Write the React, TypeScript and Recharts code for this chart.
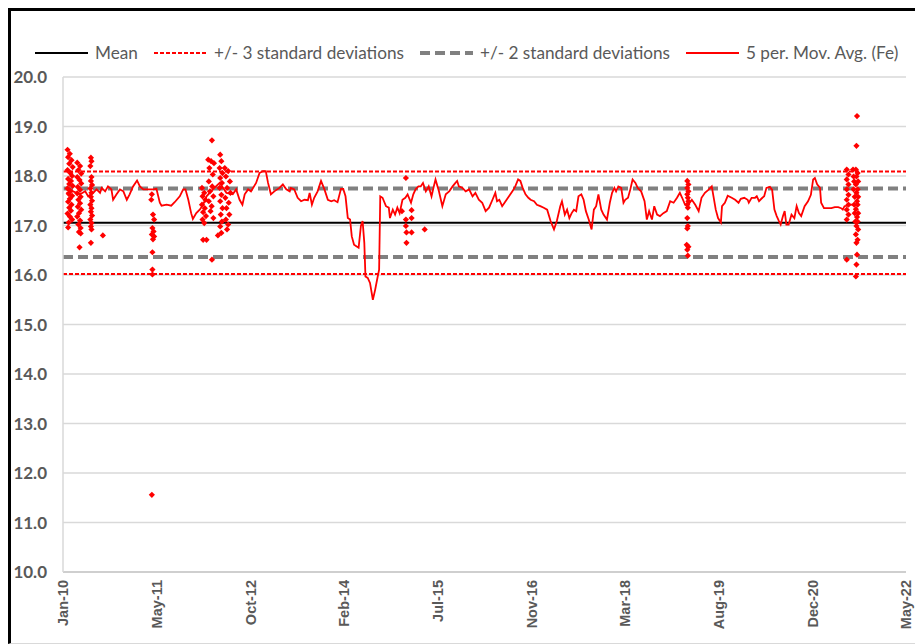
import React from 'react';
import { ComposedChart, Line, Scatter, XAxis, YAxis, CartesianGrid, ReferenceLine } from 'recharts';

// x values are months since Jan-2010
const monthLabels = ['Jan-10', 'May-11', 'Oct-12', 'Feb-14', 'Jul-15', 'Nov-16', 'Mar-18', 'Aug-19', 'Dec-20', 'May-22'];
const SPAN_MONTHS = 148;
const yTicks = [10, 11, 12, 13, 14, 15, 16, 17, 18, 19, 20];

const MEAN = 17.055;
const SD = 0.345;

const legendNames = ['Mean', '+/- 3 standard deviations', '+/- 2 standard deviations', '5 per. Mov. Avg. (Fe)'];

// 5 period moving average of Fe
const movAvg: [number, number][] = [
  [0.6, 17.66], [1.8, 17.69], [3.0, 17.63], [3.9, 17.69], [4.4, 17.59], [5.3, 17.66], [5.9, 17.73], [6.5, 17.66],
  [6.8, 17.76], [7.4, 17.69], [7.9, 17.79], [8.5, 17.73], [8.8, 17.52], [9.4, 17.63], [10.0, 17.73], [10.6, 17.69],
  [11.2, 17.52], [11.7, 17.63], [12.3, 17.79], [13.0, 17.91], [13.5, 17.79], [14.1, 17.73], [14.7, 17.73], [15.2, 17.73],
  [15.8, 17.73], [16.4, 17.74], [17.0, 17.46], [17.3, 17.4], [18.2, 17.42], [19.0, 17.4], [19.6, 17.47], [20.5, 17.59],
  [21.1, 17.73], [21.5, 17.73], [22.0, 17.52], [22.5, 17.25], [22.8, 17.13], [23.4, 17.25], [24.0, 17.32], [24.6, 17.42],
  [25.2, 17.59], [26.3, 17.73], [27.5, 17.86], [28.7, 17.66], [29.8, 17.63], [30.4, 17.73], [31.0, 17.52], [31.5, 17.42],
  [31.9, 17.63], [32.5, 17.73], [33.0, 17.69], [33.9, 17.86], [34.5, 18.06], [35.1, 18.1], [35.6, 18.1], [36.0, 17.86],
  [36.5, 17.63], [37.1, 17.69], [38.0, 17.76], [38.6, 17.83], [39.2, 17.73], [39.8, 17.69], [40.0, 17.76], [40.6, 17.73],
  [41.2, 17.56], [41.8, 17.49], [42.4, 17.52], [43.0, 17.51], [43.3, 17.66], [43.7, 17.42], [44.1, 17.56], [44.7, 17.69],
  [45.3, 17.9], [45.9, 17.73], [46.5, 17.52], [47.1, 17.49], [47.6, 17.51], [48.2, 17.47], [48.8, 17.74], [49.2, 17.74],
  [49.6, 17.59], [50.0, 17.15], [50.4, 17.12], [50.7, 16.78], [51.1, 16.61], [51.5, 16.58], [51.9, 16.55], [52.3, 16.99],
  [52.6, 17.09], [52.9, 16.65], [53.1, 15.97], [53.5, 15.94], [53.9, 15.84], [54.4, 15.5], [54.8, 15.7], [55.2, 15.94],
  [55.5, 16.11], [55.7, 17.59], [56.1, 17.56], [56.7, 17.39], [57.2, 17.36], [57.4, 17.15], [57.9, 17.32], [58.3, 17.22],
  [58.7, 17.36], [59.1, 17.25], [59.6, 17.52], [60.1, 17.56], [60.5, 17.63], [61.1, 17.46], [61.5, 17.63], [61.9, 17.73],
  [62.4, 17.79], [62.8, 17.79], [63.2, 17.86], [63.7, 17.69], [64.2, 17.79], [64.7, 17.59], [65.1, 17.79], [65.4, 17.93],
  [66.0, 17.69], [66.6, 17.39], [67.2, 17.63], [67.8, 17.69], [68.4, 17.79], [68.9, 17.86], [69.2, 17.9], [69.5, 17.79],
  [70.1, 17.76], [70.7, 17.69], [71.3, 17.73], [71.9, 17.59], [72.4, 17.66], [73.0, 17.52], [73.6, 17.46], [74.2, 17.29],
  [74.8, 17.36], [75.4, 17.52], [75.9, 17.66], [76.2, 17.49], [76.6, 17.52], [77.1, 17.39], [77.7, 17.49], [78.3, 17.59],
  [78.9, 17.69], [79.4, 17.79], [79.9, 17.93], [80.3, 17.9], [80.7, 17.76], [81.2, 17.63], [81.7, 17.56], [82.1, 17.52],
  [82.7, 17.49], [83.2, 17.42], [83.8, 17.39], [84.4, 17.36], [85.0, 17.32], [85.6, 17.09], [86.2, 16.92], [86.7, 17.09],
  [87.3, 17.39], [87.6, 17.49], [88.1, 17.22], [88.5, 17.32], [88.9, 17.15], [89.3, 17.25], [89.7, 17.32], [90.1, 17.29],
  [90.5, 17.59], [91.0, 17.63], [91.4, 17.52], [91.8, 17.29], [92.3, 17.12], [92.8, 16.92], [93.2, 17.32], [93.6, 17.39],
  [94.0, 17.63], [94.5, 17.32], [94.9, 17.22], [95.5, 17.12], [96.0, 17.46], [96.4, 17.66], [96.8, 17.76], [97.1, 17.69],
  [97.5, 17.79], [98.0, 17.76], [98.4, 17.46], [98.7, 17.52], [99.2, 17.56], [99.6, 17.73], [100.0, 17.93], [100.5, 17.86],
  [100.9, 17.76], [101.5, 17.69], [102.1, 17.49], [102.5, 17.12], [102.9, 17.29], [103.4, 17.12], [103.8, 17.39], [104.3, 17.22],
  [104.8, 17.19], [105.4, 17.25], [106.0, 17.29], [106.6, 17.49], [107.2, 17.46], [107.8, 17.56], [108.3, 17.66], [108.7, 17.56],
  [109.2, 17.42], [109.8, 17.42], [110.4, 17.52], [111.0, 17.42], [111.6, 17.29], [112.1, 17.56], [112.7, 17.66], [113.3, 17.72],
  [113.9, 17.79], [114.2, 17.59], [114.6, 17.32], [115.0, 17.15], [115.5, 17.06], [115.7, 17.39], [116.2, 17.46], [116.7, 17.6],
  [117.4, 17.56], [118.0, 17.52], [118.6, 17.46], [119.0, 17.54], [119.6, 17.56], [120.2, 17.52], [120.4, 17.46], [120.9, 17.56],
  [121.5, 17.56], [121.8, 17.59], [122.2, 17.49], [122.6, 17.54], [123.1, 17.59], [123.5, 17.76], [124.1, 17.78], [124.5, 17.72],
  [124.9, 17.32], [125.3, 17.19], [125.7, 17.09], [126.0, 17.02], [126.4, 17.19], [126.7, 17.29], [127.0, 17.02], [127.4, 17.02],
  [127.9, 17.22], [128.4, 17.15], [128.8, 17.39], [129.2, 17.25], [129.6, 17.19], [130.2, 17.39], [130.8, 17.49], [131.3, 17.62],
  [131.7, 17.93], [132.0, 17.96], [132.4, 17.83], [132.9, 17.76], [133.1, 17.46], [133.6, 17.35], [134.3, 17.35], [134.9, 17.35],
  [135.5, 17.37], [136.1, 17.37], [136.6, 17.35], [136.9, 17.32], [137.2, 17.39], [137.7, 17.4], [138.1, 17.42], [138.7, 17.42],
];

// individual Fe results outside the moving average
const fePoints: [number, number][] = [
  // early 2010
  [0.8, 18.53], [1.2, 18.45], [0.9, 18.38], [1.5, 18.32], [1.1, 18.25], [1.7, 18.18], [0.8, 18.12], [1.3, 18.06],
  [1.6, 18.0], [0.9, 17.94], [1.4, 17.9], [1.1, 17.84], [1.7, 17.8], [0.8, 17.75], [1.3, 17.7], [1.0, 17.64],
  [1.6, 17.6], [1.2, 17.54], [0.9, 17.48], [1.5, 17.42], [1.1, 17.36], [1.4, 17.3], [0.8, 17.24], [1.2, 17.18],
  [1.6, 17.12], [1.0, 17.06], [0.9, 16.96],
  [2.5, 18.27], [3.0, 18.2], [2.7, 18.12], [3.2, 18.05], [2.5, 17.98], [2.9, 17.92], [3.2, 17.85], [2.6, 17.78],
  [3.0, 17.72], [2.5, 17.65], [3.1, 17.58], [2.7, 17.52], [3.0, 17.45], [2.6, 17.38], [3.2, 17.32], [2.8, 17.25],
  [2.5, 17.18], [3.0, 17.1], [2.7, 17.02], [3.1, 16.95], [2.8, 16.87], [3.1, 16.84], [2.9, 16.56],
  [4.9, 18.37], [5.0, 18.3], [4.8, 18.2], [5.0, 17.98], [4.9, 17.9], [5.1, 17.82], [4.8, 17.75], [5.0, 17.66],
  [4.9, 17.58], [5.1, 17.5], [4.8, 17.42], [5.0, 17.35], [4.9, 17.28], [5.1, 17.2], [4.8, 17.12], [5.0, 17.05],
  [4.9, 16.98], [5.0, 16.92], [4.9, 16.65], [7.0, 16.8],
  // mid 2011
  [15.6, 17.63], [15.5, 17.52], [15.8, 17.22], [16.0, 17.12], [15.7, 16.95], [15.9, 16.88], [15.6, 16.82], [16.0, 16.78],
  [15.8, 16.72], [15.7, 16.46], [15.7, 16.11], [15.7, 16.01], [15.6, 11.56],
  // early 2012
  [26.15, 18.72],
  [24.4, 17.76], [24.8, 17.66], [24.5, 17.59], [25.0, 17.52], [24.4, 17.42], [24.9, 17.35], [24.6, 17.27], [25.1, 17.19],
  [24.5, 17.12], [24.8, 17.05], [24.6, 16.71], [25.2, 16.71],
  [25.5, 18.33], [26.0, 18.3], [26.5, 18.26], [25.7, 18.16], [26.3, 18.03], [25.6, 17.89], [26.2, 17.79], [25.8, 17.69],
  [26.4, 17.59], [25.6, 17.49], [26.1, 17.39], [25.9, 17.29], [26.4, 17.15], [26.15, 16.31],
  [27.6, 18.43], [27.8, 18.3], [27.5, 18.16], [28.0, 18.06], [27.6, 17.96], [27.9, 17.86], [27.5, 17.76], [27.8, 17.62],
  [27.6, 17.49], [28.0, 17.35], [27.7, 17.22], [27.9, 17.08], [27.6, 16.98], [27.8, 16.85], [27.2, 16.8],
  [28.4, 18.16], [29.0, 18.1], [28.6, 17.99], [29.3, 17.89], [28.8, 17.76], [29.4, 17.66], [28.5, 17.56], [29.1, 17.46],
  [28.7, 17.35], [29.2, 17.22], [28.6, 17.12], [29.0, 17.02], [28.8, 16.92],
  // late 2014
  [60.2, 17.96], [59.5, 17.29], [61.2, 17.31], [61.2, 17.15], [60.2, 17.12], [60.2, 16.99], [60.3, 16.86], [61.2, 16.86],
  [60.3, 16.65], [63.5, 16.92],
  // early 2019
  [109.6, 17.9], [109.8, 17.83], [109.6, 17.76], [109.8, 17.69], [109.6, 17.63], [109.7, 17.56], [109.8, 17.49], [109.6, 17.42],
  [109.7, 17.36], [109.6, 17.15], [109.7, 16.99], [109.6, 16.94], [109.5, 16.61], [109.8, 16.57], [109.6, 16.51], [109.7, 16.39],
  // 2021
  [139.4, 19.21], [139.3, 18.61],
  [137.6, 18.13], [137.9, 18.03], [137.6, 17.93], [137.9, 17.83], [137.6, 17.73], [137.9, 17.62], [137.6, 17.52], [137.9, 17.42],
  [137.6, 17.32], [137.9, 17.22], [137.6, 17.12], [137.6, 16.31],
  [138.7, 18.13], [139.2, 18.13], [139.5, 18.06], [138.8, 17.99], [139.3, 17.99], [139.6, 17.89], [138.9, 17.89], [139.2, 17.83],
  [139.5, 17.73], [138.8, 17.73], [139.3, 17.66], [139.6, 17.58], [139.0, 17.58], [139.4, 17.49], [138.9, 17.42], [139.5, 17.42],
  [139.2, 17.33], [139.6, 17.25], [139.0, 17.25], [139.4, 17.17], [139.1, 17.08], [139.5, 17.08], [139.3, 16.99], [139.6, 16.92],
  [139.2, 16.82], [139.5, 16.71], [139.3, 16.65], [139.4, 16.41], [139.3, 16.21], [139.2, 15.97],
];

const lineData = movAvg.map(([m, fe]) => ({ m, fe }));
const pointData = fePoints.map(([m, fe]) => ({ m, fe }));
const xTicks = monthLabels.map((_, i) => (i * SPAN_MONTHS) / (monthLabels.length - 1));

const GREY_TEXT = '#595959';

const Diamond = (props: any) => {
  const { cx, cy } = props;
  if (cx == null || cy == null) return null;
  const r = 3.1;
  return <path d={`M${cx},${cy - r}L${cx + r},${cy}L${cx},${cy + r}L${cx - r},${cy}Z`} fill="#ff0000" />;
};

const MonthTick = ({ x, y, payload }: any) => {
  const idx = Math.round((payload.value * (monthLabels.length - 1)) / SPAN_MONTHS);
  return (
    <text
      x={x}
      y={y}
      transform={`rotate(-90, ${x}, ${y})`}
      textAnchor="end"
      dy="0.36em"
      fill={GREY_TEXT}
      fontFamily="'Liberation Sans', Arial, sans-serif"
      fontWeight="bold"
      fontSize={14.5}
    >
      {monthLabels[idx]}
    </text>
  );
};

const legendStyles = [
  { stroke: '#000000', width: 2, dash: undefined },
  { stroke: '#ff0000', width: 2, dash: '4 2' },
  { stroke: '#808080', width: 4, dash: '10 5' },
  { stroke: '#ff0000', width: 2, dash: undefined },
];

const ChartLegend = () => (
  <div
    style={{
      position: 'absolute',
      left: 35,
      top: 42,
      display: 'flex',
      alignItems: 'center',
      gap: 16,
      fontFamily: 'Lato, sans-serif',
      fontSize: 17.2,
      color: GREY_TEXT,
      whiteSpace: 'nowrap',
    }}
  >
    {legendNames.map((name, i) => (
      <div key={name} style={{ display: 'flex', alignItems: 'center', gap: 7 }}>
        <svg width={53} height={10}>
          <line
            x1={0}
            x2={53}
            y1={5}
            y2={5}
            stroke={legendStyles[i].stroke}
            strokeWidth={legendStyles[i].width}
            strokeDasharray={legendStyles[i].dash}
          />
        </svg>
        <span>{name}</span>
      </div>
    ))}
  </div>
);

const App: React.FC = () => {
  return (
    <div style={{ position: 'relative', width: 915, height: 644, background: '#fff', overflow: 'hidden' }}>
      <style>{'body{margin:0;overflow:hidden;}'}</style>
      <div
        style={{
          position: 'absolute',
          left: 8,
          top: 8,
          right: 0,
          bottom: 0,
          borderTop: '3px solid #000',
          borderLeft: '3px solid #000',
          borderBottom: '1px solid #d9d9d9',
        }}
      />
      <div style={{ position: 'absolute', left: 0, top: 0 }}>
        <ComposedChart width={915} height={644} margin={{ top: 77, right: 9, bottom: 8, left: 13 }}>
          <CartesianGrid vertical={false} stroke="#d9d9d9" strokeWidth={1.5} />
          <XAxis
            dataKey="m"
            type="number"
            domain={[0, SPAN_MONTHS]}
            ticks={xTicks}
            interval={0}
            allowDataOverflow
            height={64}
            tick={<MonthTick />}
            tickLine={false}
            tickSize={0}
            tickMargin={8}
            axisLine={{ stroke: '#c8c8c8', strokeWidth: 1.5 }}
          />
          <YAxis
            type="number"
            domain={[10, 20]}
            ticks={yTicks}
            interval={0}
            width={50}
            tickFormatter={(v: number) => v.toFixed(1)}
            tick={{ fill: GREY_TEXT, fontFamily: 'Lato, sans-serif', fontWeight: 'bold', fontSize: 17 }}
            tickLine={false}
            tickSize={0}
            tickMargin={16}
            axisLine={{ stroke: '#d9d9d9', strokeWidth: 1.5 }}
          />
          <ReferenceLine y={MEAN + 2 * SD} stroke="#808080" strokeWidth={4} strokeDasharray="10 5" />
          <ReferenceLine y={MEAN - 2 * SD} stroke="#808080" strokeWidth={4} strokeDasharray="10 5" />
          <ReferenceLine y={MEAN} stroke="#000000" strokeWidth={2} />
          <ReferenceLine y={MEAN + 3 * SD} stroke="#ff0000" strokeWidth={2} strokeDasharray="4 2" />
          <ReferenceLine y={MEAN - 3 * SD} stroke="#ff0000" strokeWidth={2} strokeDasharray="4 2" />
          <Line
            data={lineData}
            dataKey="fe"
            type="linear"
            stroke="#ff0000"
            strokeWidth={1.8}
            dot={false}
            activeDot={false}
            isAnimationActive={false}
          />
          <Scatter data={pointData} dataKey="fe" shape={<Diamond />} isAnimationActive={false} />
        </ComposedChart>
      </div>
      <ChartLegend />
    </div>
  );
};

export default App;
